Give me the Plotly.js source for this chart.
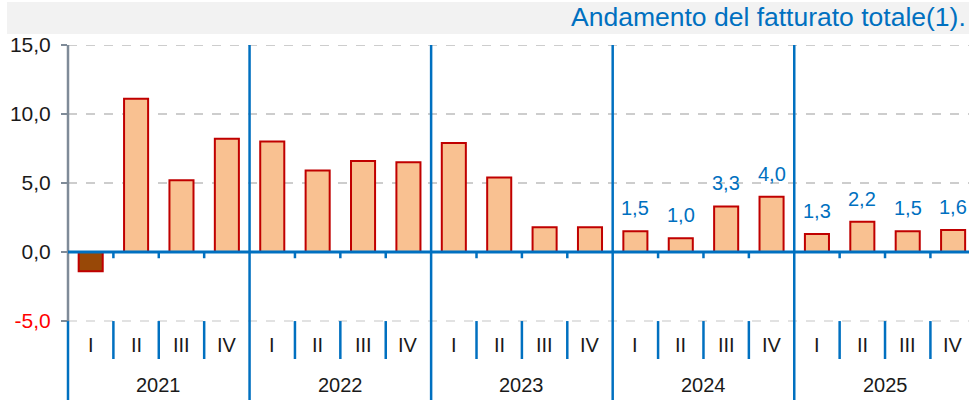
<!DOCTYPE html>
<html>
<head>
<meta charset="utf-8">
<script src="https://cdn.plot.ly/plotly-3.0.1.min.js"></script>
<style>
html,body{margin:0;padding:0;background:#fff;overflow:hidden;}
#chart{width:969px;height:400px;}
</style>
</head>
<body>
<div id="chart"></div>
<script>
// ---- data ----
const years = ['2021', '2022', '2023', '2024', '2025'];
const quarters = ['I', 'II', 'III', 'IV'];
const values = [-1.4, 11.1, 5.2, 8.2, 8.0, 5.9, 6.6, 6.5, 7.9, 5.4, 1.8, 1.8, 1.5, 1.0, 3.3, 4.0, 1.3, 2.2, 1.5, 1.6];
const labeledYears = ['2024', '2025'];
const yTicks = [-5, 0, 5, 10, 15];
const titleText = 'Andamento del fatturato totale(1).';

// ---- derived ----
const BLUE = '#0070C0';
const FONT = 'Liberation Sans, Arial, sans-serif';
const fmt = v => v.toFixed(1).replace('.', ',');
const xs = values.map((v, i) => i);
const qLabels = values.map((v, i) => quarters[i % 4]);
const yLabels = values.map((v, i) => years[Math.floor(i / 4)]);
const colors = values.map(v => v < 0 ? '#984807' : '#F9C191');

const PL = 68, PT = 45, PW = 901, PH = 355;
const Y_MIN = -10.72, Y_MAX = 15;
const X_MIN = -0.5, X_MAX = 19.35;
const Q_LABEL_Y = -6.7, YEAR_LABEL_Y = -9.6, BAND_BOTTOM = -7.75;
const py = px => 1 + (PT - px) / PH;   // pixel row -> paper y
const pxx = px => (px - PL) / PW;      // pixel col -> paper x

const trace = {
  type: 'bar',
  x: xs,
  y: values,
  marker: {color: colors, line: {color: '#C00000', width: 2}},
  hoverinfo: 'skip'
};

const shapes = [];
// title band
shapes.push({type: 'rect', xref: 'paper', yref: 'paper',
  x0: pxx(7), x1: 1.1, y0: py(34), y1: py(2),
  fillcolor: '#F2F2F2', line: {width: 0}, layer: 'below'});
// gridlines
yTicks.filter(v => v !== 0).forEach(v => {
  shapes.push({type: 'line', xref: 'paper', yref: 'y', x0: 0, x1: 1, y0: v, y1: v,
    line: {color: v < 0 ? '#D9D9D9' : '#BDBDBD', width: 1.5, dash: 'dash'}, layer: 'below'});
});
// left axis line
shapes.push({type: 'line', xref: 'paper', yref: 'y', x0: 0, x1: 0, y0: yTicks[0], y1: Y_MAX,
  line: {color: '#7F8B98', width: 2.5}});
shapes.push({type: 'line', xref: 'paper', yref: 'y', x0: 0, x1: 0, y0: Y_MIN, y1: yTicks[0],
  line: {color: BLUE, width: 2.5}});
// zero line
shapes.push({type: 'line', xref: 'paper', yref: 'y', x0: 0, x1: 1, y0: 0, y1: 0,
  line: {color: BLUE, width: 3}, layer: 'above'});
// separators
values.forEach((v, i) => {
  if (i === 0) return;
  const bx = i - 0.5;
  if (i % 4 === 0) {
    shapes.push({type: 'line', xref: 'x', yref: 'y', x0: bx, x1: bx, y0: Y_MIN, y1: Y_MAX,
      line: {color: BLUE, width: 2.5}, layer: 'above'});
  } else {
    shapes.push({type: 'line', xref: 'x', yref: 'y', x0: bx, x1: bx, y0: yTicks[0], y1: BAND_BOTTOM,
      line: {color: BLUE, width: 2.5}});
    shapes.push({type: 'line', xref: 'x', yref: 'y', x0: bx, x1: bx, y0: 0, y1: -0.45,
      line: {color: BLUE, width: 2.5}});
  }
});

const annotations = [];
// title (right-aligned against the right edge)
annotations.push({xref: 'paper', yref: 'paper', x: pxx(968), y: py(17), xanchor: 'right', yanchor: 'middle',
  text: titleText, showarrow: false, font: {family: FONT, size: 26.5, color: BLUE}});
values.forEach((v, i) => {
  annotations.push({x: i, y: Q_LABEL_Y, xref: 'x', yref: 'y', text: qLabels[i], showarrow: false,
    font: {family: FONT, size: 20, color: '#1a1a1a'}});
  if (labeledYears.includes(yLabels[i])) {
    annotations.push({x: i, y: v, xref: 'x', yref: 'y', text: fmt(v), showarrow: false,
      yanchor: 'middle', yshift: 23, font: {family: FONT, size: 20, color: BLUE}});
  }
});
years.forEach((y, k) => {
  annotations.push({x: 4 * k + 1.5, y: YEAR_LABEL_Y, xref: 'x', yref: 'y', text: y, showarrow: false,
    font: {family: FONT, size: 20, color: '#1a1a1a'}});
});

const layout = {
  width: 969, height: 400,
  margin: {l: PL, r: 0, t: PT, b: 0, pad: 0},
  paper_bgcolor: '#fff', plot_bgcolor: '#fff',
  showlegend: false,
  bargap: 0.47,
  font: {family: FONT, size: 20, color: '#1a1a1a'},
  xaxis: {range: [X_MIN, X_MAX], showticklabels: false, showgrid: false, zeroline: false,
    showline: false, ticks: '', fixedrange: true},
  yaxis: {range: [Y_MIN, Y_MAX], tickvals: yTicks,
    ticktext: yTicks.map(v => v < 0 ? '<span style="color:#FF0000">' + fmt(v) + '</span>' : fmt(v)),
    tickfont: {family: FONT, size: 21, color: '#1a1a1a'},
    ticks: 'outside', ticklen: 6, tickwidth: 2, tickcolor: '#7F8B98', ticklabelstandoff: 6,
    showgrid: false, zeroline: false, showline: false, fixedrange: true},
  shapes: shapes,
  annotations: annotations
};

Plotly.newPlot('chart', [trace], layout, {displayModeBar: false, staticPlot: true});
</script>
</body>
</html>
